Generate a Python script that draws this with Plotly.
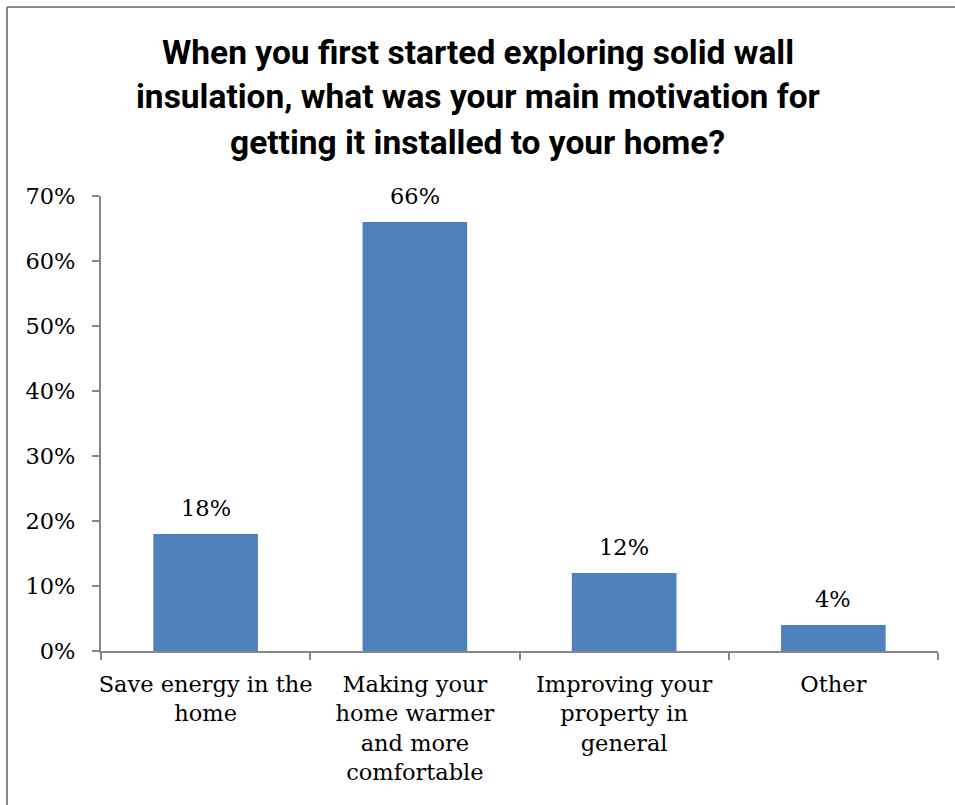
import plotly.graph_objects as go

# Survey answers and their shares
categories = [
    "Save energy in the<br>home",
    "Making your<br>home warmer<br>and more<br>comfortable",
    "Improving your<br>property in<br>general",
    "Other",
]
shares = [0.18, 0.66, 0.12, 0.04]
title_lines = [
    "When you first started exploring solid wall",
    "insulation, what was your main motivation for",
    "getting it installed to your home?",
]
y_ticks = [0, 0.1, 0.2, 0.3, 0.4, 0.5, 0.6, 0.7]

W, H = 955, 805
L, R, T, B = 101, 17, 196, 154
BAR_COLOR = "#4F81BD"
AXIS_COLOR = "#868686"
SERIF = "DejaVu Serif"
TITLE_FONT = "Roboto"
LABEL_SIZE = 22.5

fig = go.Figure(
    go.Bar(
        x=categories,
        y=shares,
        marker=dict(color=BAR_COLOR, line=dict(width=0)),
        showlegend=False,
    )
)

# Value labels above each bar
for cat, val in zip(categories, shares):
    fig.add_annotation(
        x=cat,
        y=val,
        text=f"{val:.0%}",
        showarrow=False,
        yanchor="middle",
        yshift=26,
        font=dict(family=SERIF, size=LABEL_SIZE, color="#000000"),
    )

fig.update_layout(
    width=W,
    height=H,
    margin=dict(l=L, r=R, t=T, b=B, pad=0, autoexpand=False),
    paper_bgcolor="white",
    plot_bgcolor="white",
    bargap=0.5,
    showlegend=False,
    font=dict(family=SERIF, size=LABEL_SIZE, color="#000000"),
)

fig.update_xaxes(
    showline=True,
    linecolor=AXIS_COLOR,
    linewidth=2,
    ticks="outside",
    tickson="boundaries",
    ticklen=7,
    tickwidth=2,
    tickcolor=AXIS_COLOR,
    showgrid=False,
    tickangle=0,
    automargin=False,
    ticklabelstandoff=12,
    tickfont=dict(family=SERIF, size=LABEL_SIZE),
)

fig.update_yaxes(
    range=[0, 0.7],
    tickvals=y_ticks,
    tickformat=".0%",
    showline=True,
    linecolor=AXIS_COLOR,
    linewidth=2,
    ticks="outside",
    ticklen=7,
    tickwidth=2,
    tickcolor=AXIS_COLOR,
    showgrid=False,
    zeroline=False,
    automargin=False,
    ticklabelstandoff=12,
    tickfont=dict(family=SERIF, size=LABEL_SIZE),
)

# Title, one annotation per line for the wider line spacing
for i, line in enumerate(title_lines):
    fig.add_annotation(
        text=f"<b>{line}</b>",
        xref="paper",
        yref="paper",
        x=(W / 2 - L) / (W - L - R),
        y=1 + (T - (52 + 45 * i)) / (H - T - B),
        xanchor="center",
        yanchor="middle",
        showarrow=False,
        font=dict(family=TITLE_FONT, size=33.5, color="#000000"),
    )

# Frame lines along the top and left edges of the chart area
pw, ph = W - L - R, H - T - B
fx = (7 - L) / pw
fy = 1 + (T - 7) / ph
fig.add_shape(type="line", xref="paper", yref="paper",
              x0=fx, x1=(W - L) / pw, y0=fy, y1=fy,
              line=dict(color="#888888", width=2))
fig.add_shape(type="line", xref="paper", yref="paper",
              x0=fx, x1=fx, y0=fy, y1=-B / ph,
              line=dict(color="#888888", width=2))

fig.write_html("out.html")
